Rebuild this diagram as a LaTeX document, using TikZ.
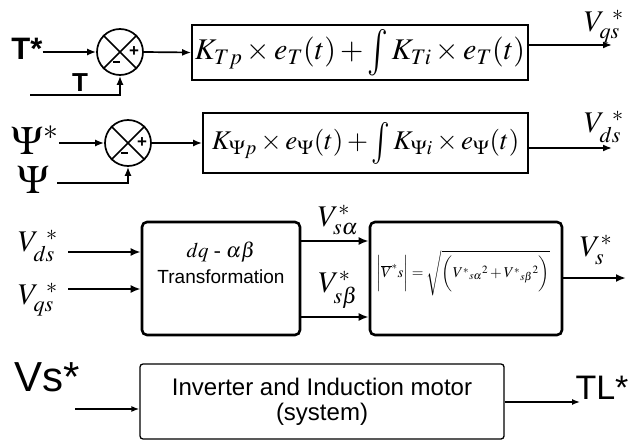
\documentclass[tikz,border=0pt]{standalone}
\usepackage{mathptmx}
\usepackage{fontspec}
\setmainfont{Liberation Serif}
\newfontfamily\sfx{Liberation Sans}
\usetikzlibrary{arrows.meta}
\newcommand{\fsz}[1]{\fontsize{#1}{#1}\selectfont}
\newcommand{\bigint}{\mathop{\vcenter{\hbox{\scalebox{1.15}[1.55]{$\textstyle\int$}}}}\nolimits}
\newcommand{\minussign}{\rule[0.3ex]{7pt}{1.8pt}}
\newcommand{\tallstrut}{\rule[-12pt]{0pt}{28pt}}
\begin{document}
\begin{tikzpicture}[x=1pt,y=-1pt,
  arr/.style={line width=1.7pt,-{Latex[length=9pt,width=7pt]}},
  arrthick/.style={line width=2.8pt,-{Latex[length=10pt,width=8pt]}},
  arrthin/.style={line width=1.4pt,-{Latex[length=8pt,width=6pt]}},
  sumnode/.style={circle,draw,line width=1.7pt,minimum size=46pt,inner sep=0pt},
  pibox/.style={draw,line width=1.8pt,inner sep=0pt,anchor=center},
  rbox/.style={draw,line width=2.6pt,rounded corners=5pt,inner sep=0pt},
  sysbox/.style={draw,line width=1.3pt,rounded corners=3pt,inner sep=0pt,align=center},
  lbl/.style={inner sep=0pt}]
\useasboundingbox (0,0) rectangle (629,441);

% ---------- row 1: torque ----------
\node[lbl,font=\sfx\bfseries\fsz{31}] (Ts) at (27,49) {T*};
\node[sumnode] (s1) at (120,52) {};
\draw[line width=1.7pt] (s1.north west) -- (s1.south east) (s1.north east) -- (s1.south west);
\node[lbl,font=\sfx\bfseries\fsz{17}] (p1) at ([xshift=14pt]s1.center) {+};
\node[lbl] (m1) at ([xshift=-4pt,yshift=-11pt]s1.center) {\minussign};
\node[pibox,minimum width=336pt,minimum height=55pt] (b1) at (360,52.5)
  {\fsz{30}$K_{Tp}\times e_{T}(t)+\bigint K_{Ti}\times e_{T}(t)$};
\draw[arr] (Ts.east |- s1.west) -- (s1.west);
\draw[arr] (s1.east) -- (b1.west);
\node[lbl,font=\sfx\bfseries\fsz{26}] (Tl) at (80,83) {T};
\coordinate (f1) at (30,95);
\draw[arr] (f1) -| (s1.south);
\coordinate (o1) at (612,45);
\draw[arr] (b1.east |- o1) -- (o1);
\node[lbl,font=\fsz{30}] (vq1) at (604,27) {$V_{qs}^{\;\,*}$};

% ---------- row 2: flux ----------
\node[lbl,font=\fsz{40}] (Ps) at (35,140) {$\Psi^{*}$};
\node[sumnode] (s2) at (128,143) {};
\draw[line width=1.7pt] (s2.north west) -- (s2.south east) (s2.north east) -- (s2.south west);
\node[lbl,font=\sfx\bfseries\fsz{17}] (p2) at ([xshift=14pt]s2.center) {+};
\node[lbl] (m2) at ([xshift=-4pt,yshift=-11pt]s2.center) {\minussign};
\node[pibox,minimum width=325pt,minimum height=60pt] (b2) at (365.5,143)
  {\fsz{27}$K_{\Psi p}\times e_{\Psi}(t)+\bigint K_{\Psi i}\times e_{\Psi}(t)$};
\draw[arr] (Ps.east |- s2.west) -- (s2.west);
\draw[arr] (s2.east) -- (b2.west);
\node[lbl,font=\fsz{40}] (P) at (33,180) {$\Psi$};
\coordinate (f2) at (57,183);
\draw[arr] (f2) -| (s2.south);
\coordinate (o2) at (612,148);
\draw[arr] (b2.east |- o2) -- (o2);
\node[lbl,font=\fsz{30}] (vd1) at (604,127) {$V_{ds}^{\;\,*}$};

% ---------- row 3: transformation ----------
\node[rbox,minimum width=158pt,minimum height=113pt] (b3) at (221,278.5) {};
\node[lbl,font=\fsz{21}] (t1) at (221,252) {$dq$ - $\alpha\beta$};
\node[lbl,font=\sfx\fsz{19}] (t2) at (221,277) {Transformation};
\node[rbox,minimum width=192pt,minimum height=113pt] (b4) at (466,278.5) {};
\node[lbl,font=\fsz{15}] (fm) at (463,273)
  {$\left|\tallstrut\overline{V}^{*}s\right|=\sqrt{\left(\tallstrut V^{*}{}_{s\alpha}{}^{2}+V^{*}{}_{s\beta}{}^{2}\right)}$};
\node[lbl,font=\fsz{30}] (vd2) at (38,246) {$V_{ds}^{\;\,*}$};
\node[lbl,font=\fsz{30}] (vq2) at (38,300) {$V_{qs}^{\;\,*}$};
\coordinate (i1) at (68,252);
\coordinate (i2) at (68,289);
\draw[arrthick] (i1) -- (i1 -| b3.west);
\draw[arrthick] (i2) -- (i2 -| b3.west);
\draw[arrthick] ([yshift=37.5pt]b3.east) -- ([yshift=37.5pt]b4.west);
\draw[arrthick] ([yshift=-38.5pt]b3.east) -- ([yshift=-38.5pt]b4.west);
\node[lbl,font=\fsz{30}] (va) at (338,220) {$V^{*}_{s\alpha}$};
\node[lbl,font=\fsz{30}] (vb) at (338,290) {$V^{*}_{s\beta}$};
\coordinate (o3) at (626,278);
\draw[arrthick] (b4.east |- o3) -- (o3);
\node[lbl,font=\fsz{30}] (vs) at (596,250) {$V^{*}_{s}$};

% ---------- row 4: system ----------
\node[sysbox,minimum width=364pt,minimum height=75pt,font=\sfx\fsz{24}] (b5) at (322,401.5)
  {Inverter and Induction motor\\[1pt](system)};
\node[lbl,font=\sfx\fsz{42}] (vsi) at (47,377) {Vs*};
\node[lbl,font=\sfx\fsz{34}] (tl) at (602,388) {TL*};
\coordinate (i5) at (75,409);
\draw[arrthin] (i5) -- (i5 -| b5.west);
\coordinate (o5) at (580,402);
\draw[arrthin] (b5.east |- o5) -- (o5);
\end{tikzpicture}
\end{document}
